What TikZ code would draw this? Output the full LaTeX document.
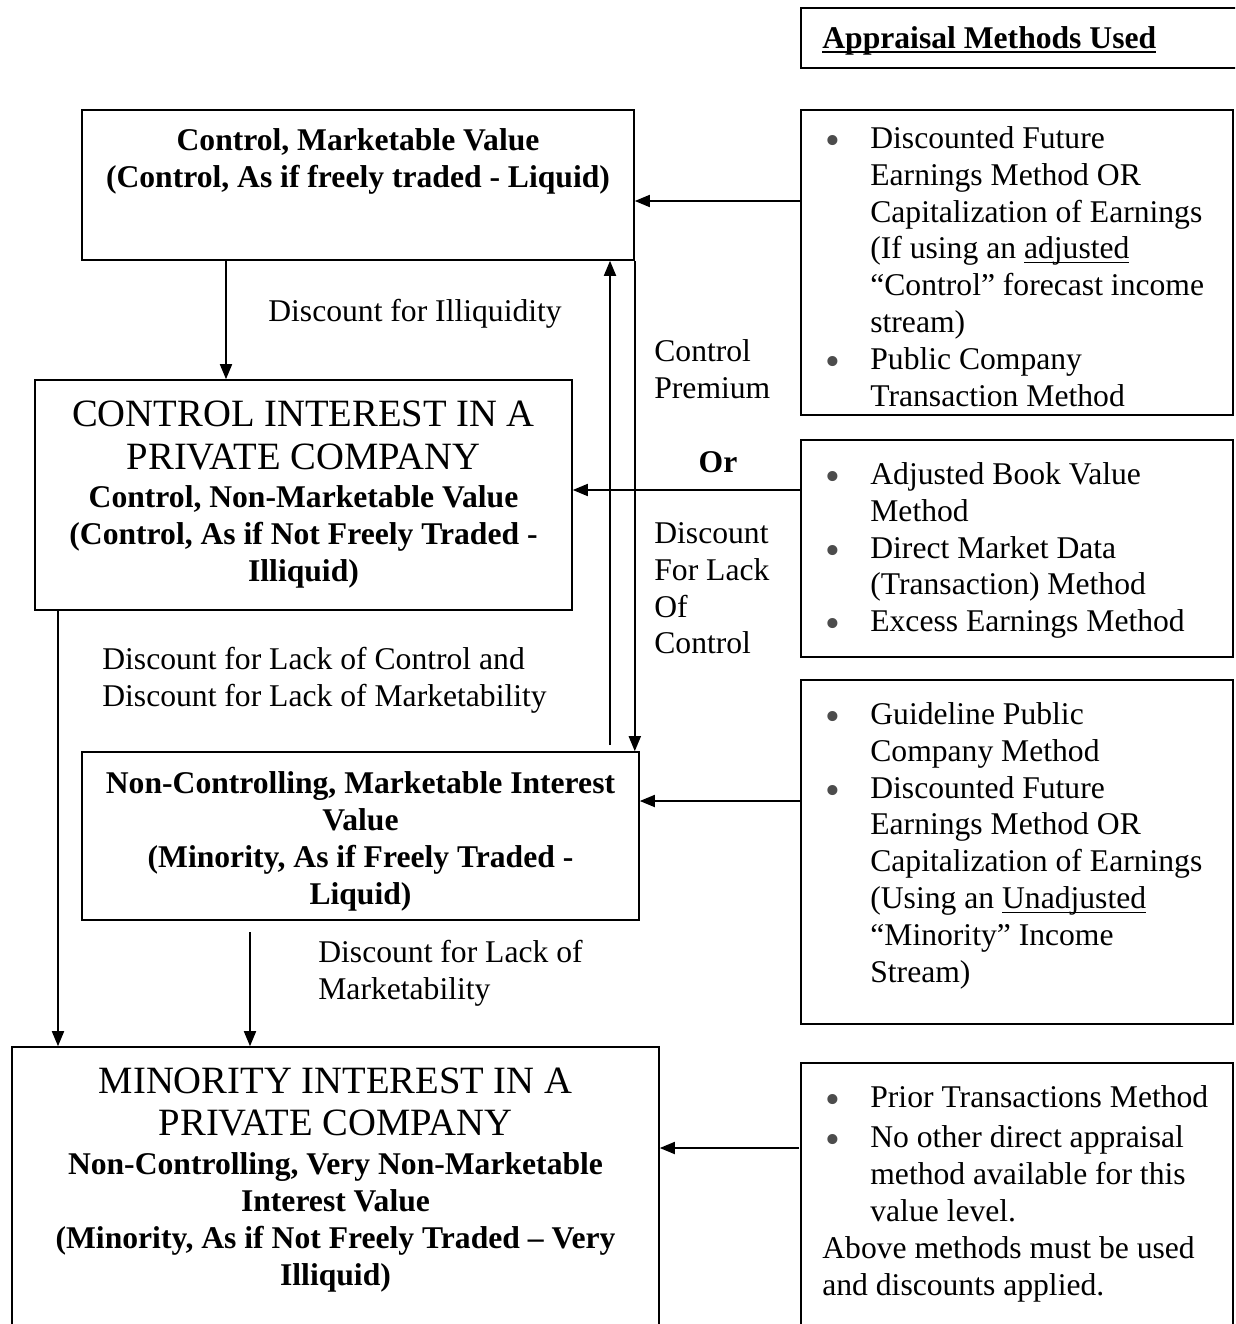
\documentclass[tikz,border=0pt]{standalone}
\usepackage{fontspec}
\setmainfont{Liberation Serif}
\usetikzlibrary{arrows.meta, positioning, fit}

\newsavebox{\ulbox}
\newcommand{\ulword}[1]{\sbox{\ulbox}{#1}\rlap{\rule[-0.08cm]{\wd\ulbox}{0.7pt}}\usebox{\ulbox}}
\newcommand{\itm}{\makebox[0.9cm][l]{\smash{\raisebox{-3.4pt}{\textcolor{black!70}{\fontsize{24}{21}\selectfont\textbullet}}}}}
\newcommand{\cnt}{\hspace*{0.9cm}}
\newcommand{\capline}[1]{{\fontsize{22}{25}\selectfont\mdseries #1}}

\begin{document}
\begin{tikzpicture}[x=0.02cm, y=-0.02cm,
    box/.style={rectangle, draw, line width=0.9pt, inner sep=0},
    ttl/.style={align=center, inner sep=0, font={\fontsize{18}{21}\selectfont\bfseries}},
    txt/.style={align=left, inner sep=0, font={\fontsize{18}{21}\selectfont}},
    arr/.style={-{Triangle[length=0.3cm, width=0.24cm]}, line width=1pt}
]
\useasboundingbox (0,0) rectangle (1235,1324);
\clip (0,0) rectangle (1235,1324);

% value levels
\node[box, fit={(82,110) (634,260)}] (cmv) {};
\node[box, fit={(35,380) (572,610)}] (cip) {};
\node[box, fit={(82,752) (639,920)}] (ncm) {};
\node[box, fit={(12,1047) (659,1345)}] (mip) {};

% appraisal methods
\node[box, fit={(801,8) (1250,68)}] (hdr) {};
\node[box, fit={(801,110) (1233,415)}] (m1) {};
\node[box, fit={(801,440) (1233,657)}] (m2) {};
\node[box, fit={(801,680) (1233,1024)}] (m3) {};
\node[box, fit={(801,1063) (1233,1345)}] (m4) {};

\node[ttl, anchor=west] (hdrtext) at (822,41) {\ulword{Appraisal Methods Used}};

\node[ttl, below=0.38cm of cmv.north] (cmvtext) {Control, Marketable Value\\
(Control, As if freely traded - Liquid)};
\node[ttl, below=0.42cm of cip.north] (ciptext) {\capline{CONTROL INTEREST IN A}\\[0.12cm]
\capline{PRIVATE COMPANY}\\[0.04cm]
Control, Non-Marketable Value\\
(Control, As if Not Freely Traded -\\
Illiquid)};
\node[ttl, below=0.4cm of ncm.north] (ncmtext) {Non-Controlling, Marketable Interest\\
Value\\
(Minority, As if Freely Traded -\\
Liquid)};
\node[ttl, below=0.42cm of mip.north] (miptext) {\capline{MINORITY INTEREST IN A}\\[0.1cm]
\capline{PRIVATE COMPANY}\\[0.06cm]
Non-Controlling, Very Non-Marketable\\
Interest Value\\
(Minority, As if Not Freely Traded -- Very\\
Illiquid)};

\node[txt, anchor=north west] (m1text) at (825,126) {\itm Discounted Future\\
\cnt Earnings Method OR\\
\cnt Capitalization of Earnings\\
\cnt (If using an \ulword{adjusted}\\
\cnt “Control” forecast income\\
\cnt stream)\\
\itm Public Company\\
\cnt Transaction Method};
\node[txt, anchor=north west] (m2text) at (825,462) {\itm Adjusted Book Value\\
\cnt Method\\
\itm Direct Market Data\\
\cnt (Transaction) Method\\
\itm Excess Earnings Method};
\node[txt, anchor=north west] (m3text) at (825,702) {\itm Guideline Public\\
\cnt Company Method\\
\itm Discounted Future\\
\cnt Earnings Method OR\\
\cnt Capitalization of Earnings\\
\cnt (Using an \ulword{Unadjusted}\\
\cnt “Minority” Income\\
\cnt Stream)};
\node[txt, anchor=north west] (m4text) at (822,1085) {\hspace*{0.06cm}\itm Prior Transactions Method\\[0.07cm]
\hspace*{0.06cm}\itm No other direct appraisal\\
\hspace*{0.06cm}\cnt method available for this\\
\hspace*{0.06cm}\cnt value level.\\
Above methods must be used\\
and discounts applied.};

% discount labels
\node[txt, anchor=west] (illiq) at (268,314) {Discount for Illiquidity};
\node[txt, anchor=north west] (prem) at (654,339) {Control\\Premium};
\node[ttl] (or) at (718,462) {Or};
\node[txt, anchor=north west] (dloc) at (654,522) {Discount\\For Lack\\Of\\Control};
\node[txt, anchor=north west] (both) at (102,647) {Discount for Lack of Control and\\
Discount for Lack of Marketability};
\node[txt, anchor=north west] (dlom) at (318,940) {Discount for Lack of\\Marketability};

% connectors
\coordinate (p1) at (801,201);
\coordinate (p2) at (801,490);
\coordinate (p3) at (801,801);
\coordinate (p4) at (799,1148);
\coordinate (d1) at (226,0);
\coordinate (d2) at (58,0);
\coordinate (d3) at (250,932);
\coordinate (up) at (610,745);

\draw[arr] (p1) -- (p1 -| cmv.east);
\draw[arr] (p2) -- (p2 -| cip.east);
\draw[arr] (p3) -- (p3 -| ncm.east);
\draw[arr] (p4) -- (p4 -| mip.east);
\draw[arr] (d1 |- cmv.south) -- (d1 |- cip.north);
\draw[arr] (d2 |- cip.south) -- (d2 |- mip.north);
\draw[arr] (d3) -- (d3 |- mip.north);
\draw[arr] (cmv.south east) -- (cmv.south east |- ncm.north);
\draw[arr] (up) -- (up |- cmv.south);
\end{tikzpicture}
\end{document}
